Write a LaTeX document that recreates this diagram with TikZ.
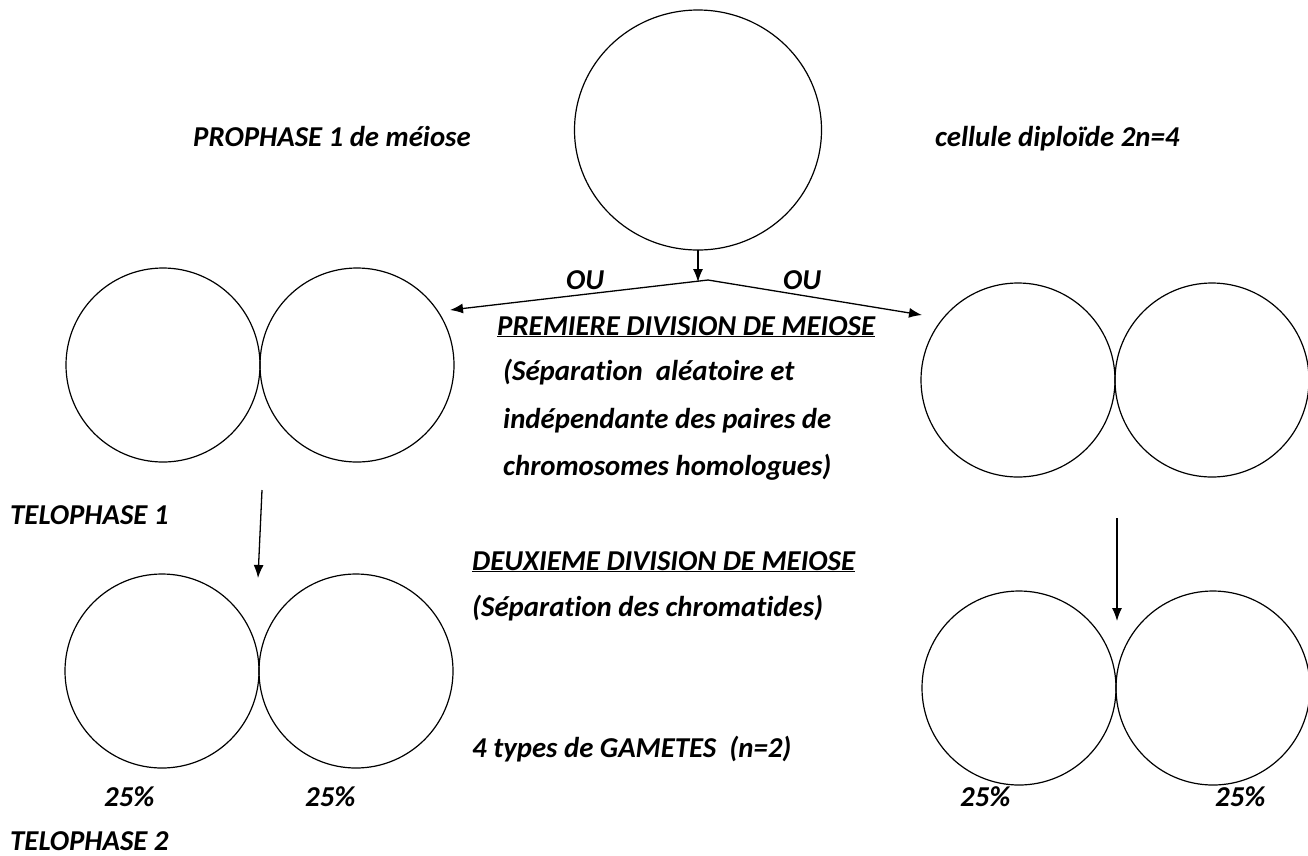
\documentclass[tikz,border=0pt]{standalone}
\usepackage{fontspec}
\setmainfont{Carlito}[Ligatures={NoCommon}]
\usetikzlibrary{arrows.meta,shapes.geometric}
\begin{document}
\begin{tikzpicture}[x=1pt,y=-1pt,
  lbl/.style={anchor=base west,inner sep=0pt,font=\fontsize{28.8}{32}\selectfont\bfseries\itshape},
  cell/.style={draw,circle,line width=1.2pt,minimum size=194pt,inner sep=0pt},
  arr/.style={line width=1.3pt,-{Latex[length=13pt,width=10pt]}}]
\useasboundingbox (0,0) rectangle (1308,855);
% cells
\node[draw,ellipse,line width=1.2pt,minimum width=247pt,minimum height=240pt,inner sep=0pt] (mother) at (698,130) {};
\node[cell] (l1a) at (163,365) {};
\node[cell] (l1b) at (357,365) {};
\node[cell] (r1a) at (1018,380) {};
\node[cell] (r1b) at (1212,380) {};
\node[cell] (l2a) at (162,671) {};
\node[cell] (l2b) at (356,671) {};
\node[cell] (r2a) at (1019,688) {};
\node[cell] (r2b) at (1213,688) {};
% arrows
\coordinate (top) at (698,250);
\coordinate (topend) at (698,282);
\coordinate (fork) at (708,280);
\coordinate (lend) at (450,310);
\coordinate (rend) at (922,315);
\draw[arr] (top) -- (topend);
\draw[arr] (fork) -- (lend);
\draw[arr] (fork) -- (rend);
\coordinate (la) at (262,490);
\coordinate (lb) at (258,578);
\draw[arr] (la) -- (lb);
\coordinate (ra) at (1117,518);
\coordinate (rb) at (1117,621);
\draw[arr] (ra) -- (rb);
% labels
\node[lbl] (t1) at (193,146) {PROPHASE 1 de méiose};
\node[lbl] (t2) at (935,146) {cellule diploïde 2n=4};
\node[lbl] (ou1) at (566,289) {OU};
\node[lbl] (ou2) at (783,289) {OU};
\node[lbl] (t3) at (497,335) {\underline{PREMIERE DIVISION DE MEIOSE}};
\node[lbl] (t4) at (503,380) {(Séparation\ \ aléatoire et};
\node[lbl] (t5) at (503,428) {indépendante des paires de};
\node[lbl] (t6) at (503,475) {chromosomes homologues)};
\node[lbl] (t7) at (10,524) {TELOPHASE 1};
\node[lbl] (t8) at (472,570) {\underline{DEUXIEME DIVISION DE MEIOSE}};
\node[lbl] (t9) at (472,616) {(Séparation des chromatides)};
\node[lbl] (t10) at (472,757) {4 types de GAMETES\ \ (n=2)};
\node[lbl] (p1) at (104,806) {25\%};
\node[lbl] (p2) at (305,806) {25\%};
\node[lbl] (p3) at (960,806) {25\%};
\node[lbl] (p4) at (1215,806) {25\%};
\node[lbl,text depth=0pt] (t11) at (10,850) {TELOPHASE 2};
\end{tikzpicture}
\end{document}
